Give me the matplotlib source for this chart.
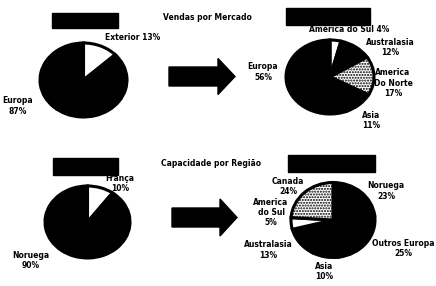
import matplotlib
matplotlib.use("Agg")
import matplotlib.pyplot as plt
from matplotlib.patches import Rectangle, FancyArrow

W, H = 436, 286

# Vendas por Mercado: situação atual e meta
vendas_atual_labels = ["Exterior", "Europa"]
vendas_atual_values = [13, 87]
vendas_meta_labels = ["América do Sul", "Australasia", "America\nDo Norte", "Asia", "Europa"]
vendas_meta_values = [4, 12, 17, 11, 56]

# Capacidade por Região: situação atual e meta
cap_atual_labels = ["França", "Noruega"]
cap_atual_values = [10, 90]
cap_meta_labels = ["Noruega", "Outros Europa", "Asia", "Australasia", "America\ndo Sul", "Canada"]
cap_meta_values = [23, 25, 10, 13, 5, 24]

fig = plt.figure(figsize=(W / 100, H / 100), dpi=100)
fig.patch.set_facecolor("white")

base = fig.add_axes([0, 0, 1, 1])
base.set_xlim(0, W)
base.set_ylim(H, 0)
base.axis("off")

font = dict(fontsize=5.5, fontweight="heavy", color="black", ha="center", va="center")


def pie(cx, cy, rx, ry, values, colors, hatches):
    ax = fig.add_axes([(cx - 1.25 * rx) / W, (H - cy - 1.25 * ry) / H,
                       2.5 * rx / W, 2.5 * ry / H])
    wedges, _ = ax.pie(values, colors=colors, startangle=90, counterclock=False,
                       wedgeprops=dict(edgecolor="black", linewidth=2.2))
    for w, h in zip(wedges, hatches):
        if h:
            w.set_hatch(h)
    ax.set_aspect("auto")
    ax.set_xlim(-1.25, 1.25)
    ax.set_ylim(-1.25, 1.25)
    return ax


def labels(names, values, positions, sep="\n"):
    for name, v, (x, y) in zip(names, values, positions):
        base.text(x, y, f"{name}{sep}{v}%", linespacing=1.2, **font)


# top row
pie(83.5, 80, 43.5, 37, vendas_atual_values, ["white", "black"], [None, None])
pie(330, 77, 44, 37, vendas_meta_values,
    ["white", "black", "white", "black", "black"], [None, None, "......", None, None])
labels(vendas_atual_labels[:1], vendas_atual_values[:1], [(133, 37)], sep=" ")
labels(vendas_atual_labels[1:], vendas_atual_values[1:], [(18, 106)])
labels(vendas_meta_labels[:1], vendas_meta_values[:1], [(349, 30)], sep=" ")
labels(vendas_meta_labels[1:], vendas_meta_values[1:],
       [(390, 47.5), (393, 83), (371, 120.5), (263, 72)])

# bottom row
pie(87.5, 222, 42.5, 36, cap_atual_values, ["white", "black"], [None, None])
pie(333, 220, 42, 37.5, cap_meta_values,
    ["black", "black", "black", "black", "white", "white"],
    [None, None, None, None, None, "......"])
labels(cap_atual_labels, cap_atual_values, [(120, 183.5), (31, 260.5)])
labels(cap_meta_labels, cap_meta_values,
       [(386, 191), (403, 248.5), (324, 271.5), (268, 250), (271, 212.5), (288, 186.5)])

# titles
base.text(207, 18, "Vendas por Mercado", **font)
base.text(211, 164, "Capacidade por Região", **font)

# redacted boxes
for x0, y0, x1, y1 in [(52, 13, 118, 28), (286, 8, 370, 25),
                       (53, 158, 118, 175), (288, 155, 375, 172)]:
    base.add_patch(Rectangle((x0, y0), x1 - x0, y1 - y0, color="black"))

# arrows
base.add_patch(FancyArrow(169, 76.5, 66, 0, width=19, head_width=36, head_length=17,
                          length_includes_head=True, color="black"))
base.add_patch(FancyArrow(172, 217.5, 65, 0, width=19, head_width=37, head_length=17,
                          length_includes_head=True, color="black"))

fig.savefig("out.png", dpi=100, facecolor="white")
